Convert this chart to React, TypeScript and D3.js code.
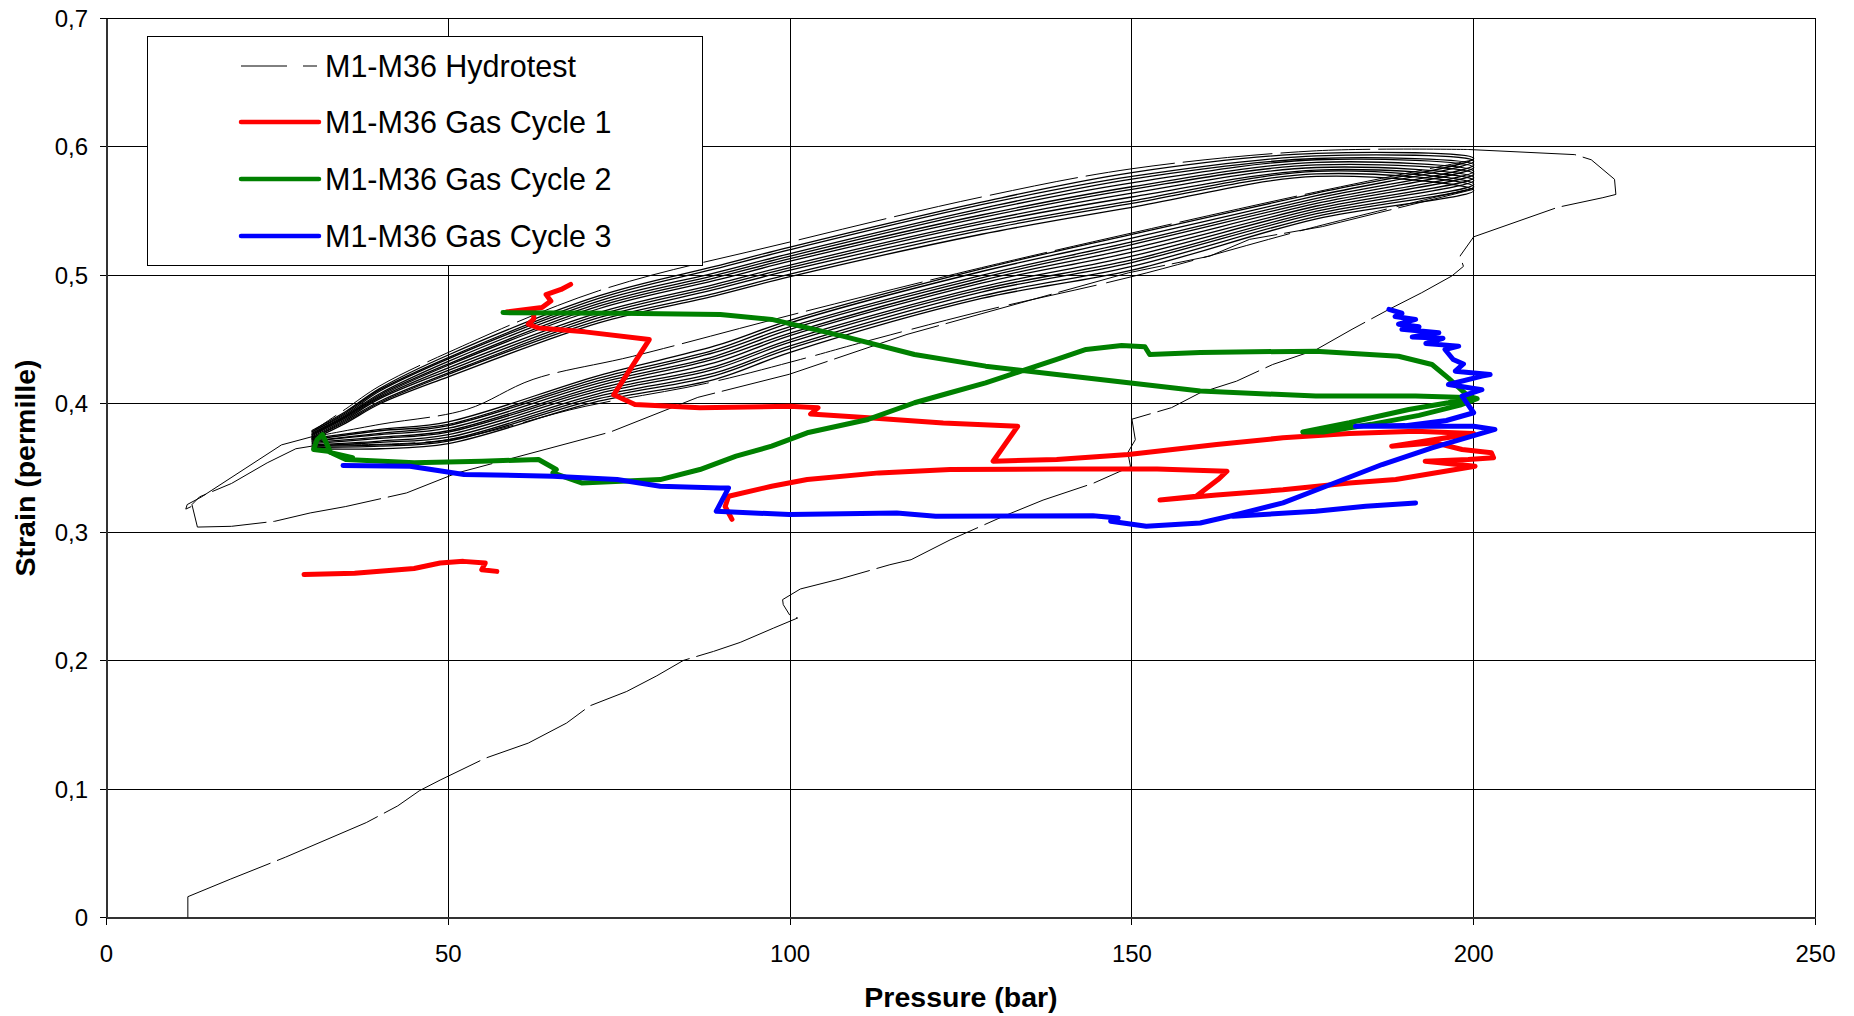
import React from 'react';
import * as d3 from 'd3';

type Pt = [number, number];

// axes
const xTicks = [0, 50, 100, 150, 200, 250];
const yTicks = [0, 0.1, 0.2, 0.3, 0.4, 0.5, 0.6, 0.7];

const seriesNames = ['M1-M36 Hydrotest', 'M1-M36 Gas Cycle 1', 'M1-M36 Gas Cycle 2', 'M1-M36 Gas Cycle 3'];
const seriesColors = ['#000000', '#ff0000', '#008000', '#0000ff'];

// hydrotest: first loading up to 220 bar, then first unloading
const hydroFirstLoad: Pt[] = [
  [11.9, 0], [11.9, 0.0162], [18.1, 0.0298], [26.2, 0.047], [38.0, 0.0739], [42.6, 0.0869],
  [45.8, 0.0988], [48.8, 0.107], [55.4, 0.124], [61.7, 0.1358], [67.3, 0.1514], [70.7, 0.1648],
  [76.1, 0.176], [80.5, 0.1882], [84.4, 0.2002], [88.8, 0.2072], [92.7, 0.2142], [97.6, 0.2254],
  [101.1, 0.2332], [100, 0.235], [99, 0.2436], [98.9, 0.2475], [101.5, 0.2558], [107.3, 0.2636],
  [114.6, 0.2747], [117.7, 0.2786], [123.4, 0.294], [131.2, 0.3124], [137, 0.325], [144.3, 0.338],
  [149.8, 0.351], [149.4, 0.362], [150.5, 0.372], [150, 0.388], [155.8, 0.397], [160, 0.4086],
  [165.3, 0.4176], [170.6, 0.4306], [176.9, 0.442], [182.2, 0.458], [187.6, 0.4735], [192.4, 0.4865],
  [196.8, 0.4995], [198.5, 0.507], [198, 0.515], [200, 0.53], [212.3, 0.553], [218.9, 0.5605],
  [220.8, 0.563], [220.6, 0.5748], [217.2, 0.59], [214.8, 0.594], [199.2, 0.598],
];
const hydroFirstUnload: Pt[] = [
  [199.2, 0.598], [177, 0.597], [150, 0.583], [128, 0.561], [100, 0.526], [72, 0.488],
  [50, 0.44], [40, 0.414], [35, 0.396], [30.5, 0.38],
];
// unloading to ~12 bar and the last reload
const hydroDrop: Pt[] = [
  [30.5, 0.375], [25.6, 0.368], [20.4, 0.35], [13.9, 0.3275], [11.8, 0.3215], [11.6, 0.318], [12.4, 0.32],
];
const hydroReload: Pt[] = [
  [30, 0.367], [27.7, 0.365], [23.5, 0.354], [18.3, 0.338], [13.6, 0.3275], [12.5, 0.3215],
  [13.3, 0.304], [18.3, 0.3046], [24.6, 0.3085], [29.8, 0.315], [35, 0.32], [43.9, 0.3306],
  [51.2, 0.346], [73.7, 0.378], [86.5, 0.405], [99.9, 0.423], [117.1, 0.454], [133.8, 0.4787],
  [149.5, 0.502], [161.4, 0.515], [167.2, 0.528], [177.9, 0.538], [200, 0.567],
];
// single loading lines lying off the main bands
const hydroMidLoad: Pt[] = [
  [30, 0.374], [40, 0.384], [52.7, 0.3956], [62.4, 0.419], [77, 0.437], [101.5, 0.471],
  [128, 0.506], [150, 0.533], [177, 0.565], [200, 0.59],
];
const hydroLowLoad: Pt[] = [
  [32, 0.368], [50, 0.372], [70, 0.398], [87.8, 0.416], [101.5, 0.4345], [110, 0.447],
  [128, 0.472], [150, 0.499], [177, 0.538], [200, 0.568],
];

// hydrotest cycles 30 <-> 200 bar (loading branch, then unloading branch)
const loopLowerP = [30, 40, 50, 72, 89, 100, 128, 150, 177, 200];
const loopLowerS = [
  [0.373, 0.380, 0.386, 0.422, 0.445, 0.465, 0.505, 0.532, 0.564, 0.591],
  [0.372, 0.379, 0.384, 0.420, 0.442, 0.463, 0.503, 0.529, 0.562, 0.589],
  [0.371, 0.377, 0.383, 0.418, 0.440, 0.460, 0.500, 0.526, 0.560, 0.586],
  [0.371, 0.376, 0.381, 0.416, 0.437, 0.458, 0.498, 0.524, 0.558, 0.584],
  [0.370, 0.374, 0.379, 0.414, 0.435, 0.455, 0.496, 0.521, 0.556, 0.581],
  [0.369, 0.373, 0.378, 0.412, 0.432, 0.453, 0.494, 0.518, 0.554, 0.579],
  [0.368, 0.371, 0.376, 0.410, 0.429, 0.450, 0.491, 0.515, 0.552, 0.576],
  [0.367, 0.370, 0.374, 0.408, 0.427, 0.448, 0.489, 0.512, 0.550, 0.574],
  [0.367, 0.368, 0.372, 0.406, 0.424, 0.445, 0.487, 0.510, 0.548, 0.571],
  [0.366, 0.367, 0.371, 0.404, 0.422, 0.443, 0.484, 0.507, 0.546, 0.569],
  [0.365, 0.365, 0.369, 0.402, 0.419, 0.440, 0.482, 0.504, 0.544, 0.566],
];
const loopUpperP = [200, 177, 150, 128, 100, 89, 72, 50, 40, 35, 30];
const loopUpperS = [
  [0.591, 0.595, 0.580, 0.557, 0.522, 0.507, 0.484, 0.438, 0.412, 0.394, 0.379],
  [0.589, 0.593, 0.577, 0.555, 0.520, 0.505, 0.482, 0.436, 0.411, 0.393, 0.378],
  [0.586, 0.591, 0.575, 0.552, 0.517, 0.502, 0.480, 0.435, 0.410, 0.392, 0.378],
  [0.584, 0.590, 0.572, 0.550, 0.515, 0.500, 0.478, 0.433, 0.408, 0.391, 0.377],
  [0.581, 0.588, 0.569, 0.547, 0.513, 0.498, 0.476, 0.431, 0.407, 0.390, 0.376],
  [0.579, 0.586, 0.567, 0.545, 0.511, 0.496, 0.474, 0.430, 0.406, 0.390, 0.376],
  [0.576, 0.584, 0.564, 0.542, 0.508, 0.493, 0.471, 0.428, 0.405, 0.389, 0.375],
  [0.574, 0.582, 0.561, 0.540, 0.506, 0.491, 0.469, 0.426, 0.404, 0.388, 0.374],
  [0.571, 0.581, 0.558, 0.537, 0.504, 0.489, 0.467, 0.424, 0.402, 0.387, 0.373],
  [0.569, 0.579, 0.556, 0.535, 0.501, 0.486, 0.465, 0.423, 0.401, 0.386, 0.373],
  [0.566, 0.577, 0.553, 0.532, 0.499, 0.484, 0.463, 0.421, 0.400, 0.385, 0.372],
];

// gas cycle 1
const gas1Low: Pt[] = [
  [28.9, 0.267], [36.3, 0.268], [45, 0.2717], [48.8, 0.276], [52.2, 0.2773], [55.4, 0.276],
  [54.9, 0.2708], [57.1, 0.2695],
];
const gas1Main: Pt[] = [
  [67.9, 0.493], [66.5, 0.489], [64.3, 0.485], [65, 0.48], [63.7, 0.475], [58.5, 0.4715],
  [62.5, 0.473], [62.5, 0.466], [61.7, 0.462], [63.2, 0.459], [70, 0.456], [79.4, 0.45],
  [74.2, 0.407], [77.3, 0.3995], [86.8, 0.397], [99.9, 0.398], [104.1, 0.397], [103, 0.392],
  [112, 0.389], [122.4, 0.385], [133.3, 0.3825], [129.7, 0.3553], [139, 0.3566], [149.5, 0.3605],
  [162.4, 0.3683], [172.1, 0.3735], [181.8, 0.3768], [191.5, 0.3786], [200, 0.3768], [188, 0.367],
  [194.4, 0.3696], [198.3, 0.3644], [202.6, 0.3618], [202.9, 0.358], [199.2, 0.3566], [192.9, 0.3553],
  [200.2, 0.3514], [188.6, 0.341], [181.8, 0.3384], [172.1, 0.333], [162.4, 0.329], [154.1, 0.325],
  [159.4, 0.328], [162.6, 0.341], [163.9, 0.3475], [153.7, 0.3493], [139, 0.3493], [123.4, 0.3488],
  [113, 0.3462], [102.5, 0.341], [97.3, 0.3358], [91, 0.328], [90.5, 0.32], [91.5, 0.31],
];

// gas cycle 2
const gas2Main: Pt[] = [
  [58, 0.471], [75, 0.4705], [89.8, 0.4696], [97.3, 0.4657], [107.7, 0.4527], [118.2, 0.4384],
  [128.6, 0.4293], [139, 0.4228], [149.5, 0.4163], [160, 0.41], [176.9, 0.406], [191.5, 0.406],
  [200, 0.4047], [196.3, 0.4008], [190.5, 0.3956], [181.8, 0.3852], [175, 0.378], [178, 0.378],
  [185, 0.384], [192, 0.391], [198, 0.399], [200.5, 0.404], [199.2, 0.406], [196.3, 0.42],
  [193.9, 0.4306], [189, 0.437], [176.9, 0.441], [160, 0.44], [152.6, 0.4384], [151.9, 0.4444],
  [148.5, 0.4454], [143.3, 0.4423], [139, 0.4345], [133.8, 0.4254], [128.6, 0.4163], [123.4, 0.4086],
  [118.2, 0.4008], [111.4, 0.3878], [102.5, 0.3774], [97.3, 0.367], [92.1, 0.3592], [86.8, 0.3488],
  [81, 0.341], [69.5, 0.3384], [65.3, 0.3462], [65.8, 0.3488], [63.2, 0.3566], [54.9, 0.3553],
  [45, 0.354], [35, 0.3566], [32.4, 0.363], [30.3, 0.3644], [30.8, 0.372], [31.6, 0.376],
  [32.8, 0.362], [36, 0.358],
];

// gas cycle 3
const gas3Main: Pt[] = [
  [34.6, 0.352], [44.4, 0.3514], [52.3, 0.345], [65.3, 0.3436], [74.7, 0.341], [81, 0.3358],
  [89.8, 0.3345], [91, 0.3345], [89.2, 0.3163], [99.9, 0.3137], [115.6, 0.315], [121.3, 0.3124],
  [144.3, 0.3129], [148, 0.3111], [146.9, 0.3085], [152.1, 0.3046], [160, 0.3072], [164.3, 0.3124],
  [172.1, 0.3228], [178.4, 0.3358], [186.6, 0.3527], [193.9, 0.3657], [203.1, 0.38], [200, 0.3825],
  [182.7, 0.3825], [190, 0.383], [196, 0.387], [200, 0.393], [198.3, 0.406], [201.2, 0.411],
  [196.3, 0.415], [201.2, 0.4215], [202.4, 0.4228], [197.3, 0.4254], [198.5, 0.431], [197, 0.4345],
  [195.8, 0.4423], [197.8, 0.4449], [193, 0.447], [195.5, 0.451], [191, 0.452], [194.9, 0.4553],
  [189.5, 0.458], [192, 0.46], [189, 0.462], [191.5, 0.4657], [188.5, 0.468], [189.5, 0.4705],
  [187.6, 0.4735],
];
const gas3Tail: Pt[] = [
  [164.8, 0.3124], [176.9, 0.3163], [184.2, 0.3202], [191.5, 0.3228],
];

const W = 1854;
const H = 1016;
const left = 106.5;
const right = 1815.5;
const top = 18.5;
const bottom = 917.5;
const font = '"Liberation Sans", Arial, Helvetica, sans-serif';

const x = d3.scaleLinear().domain([0, 250]).range([left, right]);
const y = d3.scaleLinear().domain([0, 0.7]).range([bottom, top]);

const straight = d3.line<Pt>().x(d => x(d[0])).y(d => y(d[1]));
const smooth = d3.line<Pt>().x(d => x(d[0])).y(d => y(d[1])).curve(d3.curveCatmullRom.alpha(0.5));

const yLabel = (v: number) => (v === 0 ? '0' : d3.format('.1f')(v).replace('.', ','));

const App = () => {
  const loops = loopLowerS.map((row, i) => [
    ...row.map((s, j) => [loopLowerP[j], s] as Pt),
    ...loopUpperS[i].slice(1).map((s, j) => [loopUpperP[j + 1], s] as Pt),
  ]);

  const gas = [
    { color: seriesColors[1], parts: [gas1Low, gas1Main] },
    { color: seriesColors[2], parts: [gas2Main] },
    { color: seriesColors[3], parts: [gas3Main, gas3Tail] },
  ];

  const legendRows = [66, 122, 179, 236];

  return (
    <svg width={W} height={H} style={{ position: 'absolute', left: 0, top: 0, display: 'block', background: '#fff' }}>
      {/* grid */}
      <g stroke="#000" strokeWidth={1} shapeRendering="crispEdges">
        {yTicks.map(t => (
          <line key={'gy' + t} x1={left} x2={right} y1={y(t)} y2={y(t)} />
        ))}
        {xTicks.map(t => (
          <line key={'gx' + t} x1={x(t)} x2={x(t)} y1={top} y2={bottom} />
        ))}
        {yTicks.map(t => (
          <line key={'ty' + t} x1={left - 7} x2={left} y1={y(t)} y2={y(t)} />
        ))}
        {xTicks.map(t => (
          <line key={'tx' + t} x1={x(t)} x2={x(t)} y1={bottom} y2={bottom + 7} />
        ))}
      </g>
      <g stroke="#333" strokeWidth={2} shapeRendering="crispEdges">
        <line x1={left} x2={right} y1={bottom} y2={bottom} />
        <line x1={left} x2={left} y1={top} y2={bottom} />
      </g>

      {/* hydrotest */}
      <g fill="none" stroke={seriesColors[0]} strokeWidth={1.3} strokeLinejoin="round">
        {loops.map((pts, i) => (
          <path key={'loop' + i} d={smooth(pts) || ''} />
        ))}
        <path d={smooth(hydroMidLoad) || ''} strokeWidth={1} strokeDasharray="120 8" />
        <path d={smooth(hydroLowLoad) || ''} strokeWidth={1} strokeDasharray="90 10" />
        <path d={straight(hydroFirstLoad) || ''} strokeWidth={1} strokeDasharray="110 7" />
        <path d={smooth(hydroFirstUnload) || ''} strokeWidth={1} strokeDasharray="90 8" />
        <path d={straight(hydroDrop) || ''} strokeWidth={1} />
        <path d={straight(hydroReload) || ''} strokeWidth={1} strokeDasharray="110 7" />
      </g>

      {/* gas cycles */}
      {gas.map((g, i) => (
        <g key={'gas' + i} fill="none" stroke={g.color} strokeWidth={5} strokeLinejoin="round" strokeLinecap="round">
          {g.parts.map((pts, j) => (
            <path key={j} d={straight(pts) || ''} />
          ))}
        </g>
      ))}

      {/* tick labels */}
      <g fontFamily={font} fontSize={24} fill="#000">
        {yTicks.map(t => (
          <text key={'ly' + t} x={88} y={y(t) + 8.5} textAnchor="end">
            {yLabel(t)}
          </text>
        ))}
        {xTicks.map(t => (
          <text key={'lx' + t} x={x(t)} y={961.5} textAnchor="middle">
            {t}
          </text>
        ))}
      </g>

      {/* axis titles */}
      <text x={(left + right) / 2} y={1007} textAnchor="middle" fontFamily={font} fontWeight="bold" fontSize={28.5}>
        Pressure (bar)
      </text>
      <text
        transform={`translate(35, ${(top + bottom) / 2}) rotate(-90)`}
        textAnchor="middle"
        fontFamily={font}
        fontWeight="bold"
        fontSize={28.5}
      >
        Strain (permille)
      </text>

      {/* legend */}
      <rect x={147.5} y={36.5} width={555} height={229} fill="#fff" stroke="#000" strokeWidth={1} shapeRendering="crispEdges" />
      {seriesNames.map((name, i) => (
        <g key={name}>
          {i === 0 ? (
            <g stroke="#000" strokeWidth={1}>
              <line x1={241} x2={287} y1={legendRows[i]} y2={legendRows[i]} />
              <line x1={303} x2={317} y1={legendRows[i]} y2={legendRows[i]} />
            </g>
          ) : (
            <line x1={241} x2={319} y1={legendRows[i]} y2={legendRows[i]} stroke={seriesColors[i]} strokeWidth={4.5} strokeLinecap="round" />
          )}
          <text x={325} y={legendRows[i] + 10.5} fontFamily={font} fontSize={30.5} fill="#000">
            {name}
          </text>
        </g>
      ))}
    </svg>
  );
};

export default App;
